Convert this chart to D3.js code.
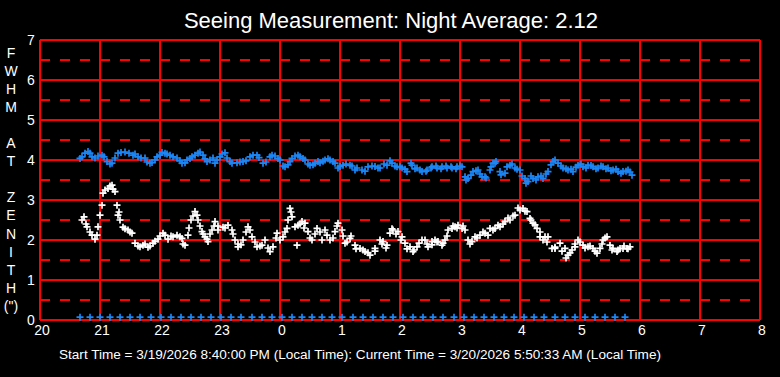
<!DOCTYPE html>
<html>
<head>
<meta charset="utf-8">
<script src="https://cdn.jsdelivr.net/npm/d3@7"></script>
<style>
  html, body { margin: 0; padding: 0; background: #000; }
  svg { display: block; }
</style>
</head>
<body>
<div id="chart"></div>
<script>
// global constants
const W = 780;
const H = 377;
const MARGIN = { top: 40, right: 20, bottom: 57, left: 40 };
const TITLE = "Seeing Measurement: Night Average: 2.12";
const FOOTER =
  "Start Time = 3/19/2026 8:40:00 PM (Local Time): Current Time = 3/20/2026 5:50:33 AM (Local Time)";
const Y_TITLE = ["F", "W", "H", "M", "", "A", "T", "", "Z", "E", "N", "I", "T", "H", "(\")"];

// x axis: hours after 20:00 (tick label wraps at 24)
const HOUR_TICKS = [20, 21, 22, 23, 24, 25, 26, 27, 28, 29, 30, 31, 32];
const Y_TICKS = [0, 1, 2, 3, 4, 5, 6, 7];
const Y_HALF = [0.5, 1.5, 2.5, 3.5, 4.5, 5.5, 6.5];

// upper (blue) series: minutes after 20:00, FWHM
const blueMin = [42, 48, 55, 62, 67, 72, 78, 85, 93, 98, 105, 110, 115, 120, 125, 130, 137, 142, 147, 152, 158, 163, 167, 173,
  175, 180, 185, 190, 197, 203, 210, 217, 223, 230, 235, 240, 245, 250, 255, 260, 265, 270, 275, 280, 285, 290, 295, 298, 303, 310,
  315, 322, 328, 335, 340, 347, 352, 357, 362, 367, 372, 377, 382, 387, 392, 397, 402, 407, 412, 417, 422, 425, 428, 433, 438, 442, 445, 450, 453,
  455, 460, 465, 470, 475, 480, 485, 488, 493, 498, 503, 508, 513, 518, 523, 528, 533, 538, 543, 548, 553, 558, 563, 568, 573, 578, 583, 588, 592,
  40, 45, 50, 52, 58, 64, 70, 75, 81, 89, 95, 101, 107, 112, 117, 122, 127, 133, 140, 145, 150, 155, 160, 165, 170,
  177, 182, 187, 192, 200, 206, 213, 219, 226, 232, 238, 243, 248, 252, 258, 263, 268, 273, 278, 283, 288, 293, 300, 306, 312,
  317, 325, 332, 338, 344, 350, 355, 360, 365, 371, 375, 380, 386, 391, 396, 401, 406, 411, 416, 420, 426, 431, 436, 440, 446, 451, 456,
  461, 467, 472, 477, 482, 486, 491, 496, 501, 506, 511, 515, 521, 526, 531, 536, 541, 546, 551, 556, 561, 566, 571, 576, 581, 586, 590];
const blueFwhm = [4.08, 4.21, 4.05, 4.12, 3.96, 3.92, 4.17, 4.2, 4.12, 4.08, 4.05, 3.92, 4.0, 4.12, 4.17, 4.12, 4.05, 3.92, 4.0, 4.08, 4.17, 4.12, 3.96, 4.05,
  3.92, 4.08, 4.18, 3.96, 3.93, 3.96, 4.08, 4.12, 3.92, 4.08, 4.1, 4.0, 3.83, 3.96, 4.1, 4.08, 4.0, 3.87, 3.92, 3.93, 4.0, 4.0, 3.92, 3.8, 3.87, 3.87,
  3.75, 3.75, 3.83, 3.84, 3.8, 3.87, 3.92, 3.83, 3.8, 3.71, 3.87, 3.8, 3.71, 3.75, 3.83, 3.8, 3.83, 3.8, 3.8, 3.83, 3.83, 3.58, 3.54, 3.71, 3.75, 3.58, 3.58, 3.75, 3.92,
  3.92, 3.71, 3.67, 3.87, 3.8, 3.75, 3.54, 3.46, 3.54, 3.58, 3.54, 3.71, 3.96, 3.92, 3.8, 3.75, 3.71, 3.87, 3.83, 3.87, 3.83, 3.8, 3.83, 3.8, 3.75, 3.71, 3.71, 3.75, 3.62,
  4.04, 4.17, 4.17, 4.08, 4.1, 4.08, 3.9, 4.05, 4.19, 4.17, 4.15, 4.05, 3.95, 3.94, 4.08, 4.19, 4.15, 4.08, 3.98, 3.93, 4.04, 4.12, 4.2, 4.03, 4.0,
  4.0, 4.15, 4.05, 3.92, 3.95, 3.98, 4.12, 4.06, 3.95, 4.12, 4.04, 3.85, 3.88, 4.04, 4.12, 4.04, 3.9, 3.88, 3.96, 3.97, 4.03, 3.96, 3.84, 3.9, 3.85,
  3.8, 3.72, 3.85, 3.8, 3.9, 3.98, 3.85, 3.83, 3.77, 3.92, 3.78, 3.75, 3.72, 3.8, 3.85, 3.78, 3.85, 3.83, 3.78, 3.85, 3.5, 3.62, 3.73, 3.65, 3.55, 3.83, 3.96,
  3.63, 3.83, 3.9, 3.77, 3.6, 3.42, 3.6, 3.5, 3.6, 3.65, 3.88, 4.0, 3.85, 3.78, 3.77, 3.82, 3.9, 3.8, 3.86, 3.78, 3.85, 3.78, 3.73, 3.77, 3.67, 3.72, 3.7];

// lower (white) series: minutes after 20:00, FWHM
const whiteMin = [42, 44, 47, 52, 55, 58, 62, 63, 68, 72, 75, 77, 78, 80, 83, 88, 92, 95, 98, 103, 108, 113, 118, 123, 128, 133, 137, 142, 145, 148,
  151, 155, 158, 162, 165, 168, 172, 175, 178, 183, 188, 192, 195, 198, 203, 208, 212, 217, 222, 225, 230, 233, 237, 240, 243, 247, 250, 252,
  255, 257, 258, 262, 265, 268, 272, 277, 282, 285, 290, 295, 298, 302, 305, 310, 315, 320, 325, 330, 335, 340, 343, 347, 350, 353, 358, 362,
  365, 370, 373, 377, 382, 385, 388, 392, 395, 398, 402, 405, 408, 412, 415, 418, 422, 425, 428, 432, 435, 440, 445, 450, 455, 460, 465, 470,
  475, 480, 483, 487, 490, 493, 497, 500, 505, 508, 512, 515, 520, 525, 528, 532, 535, 538, 543, 548, 553, 557, 560, 563, 567, 570, 573, 577,
  580, 583, 587, 590,
  46, 50, 57, 60, 65, 70, 73, 79, 85, 90, 100, 105, 110, 115, 120, 125, 131, 140, 143, 149, 153, 157, 160, 163, 167, 170, 174,
  178, 185, 193, 198, 201, 206, 210, 215, 220, 228, 236, 245, 248, 251, 260, 264, 270, 275, 280, 287, 293, 297, 303, 307,
  311, 316, 323, 328, 335, 342, 346, 352, 356, 361, 367, 374, 379, 387, 392, 397, 403, 407, 413, 417, 423, 430, 437, 443, 448,
  453, 458, 463, 468, 473, 478, 485, 491, 495, 500, 503, 507, 515, 522, 526, 530, 535, 540, 545, 550, 555, 562, 565, 572, 578, 584, 588];
const whiteFwhm = [2.5, 2.58, 2.33, 2.12, 2.02, 2.33, 2.87, 3.17, 3.29, 3.37, 3.21, 2.87, 2.62, 2.5, 2.32, 2.25, 2.17, 1.92, 1.85, 1.87, 1.82, 1.92, 2.02, 2.17, 2.02, 2.08, 2.12, 2.04, 1.87, 2.12,
  2.5, 2.71, 2.5, 2.21, 2.08, 1.96, 2.25, 2.46, 2.25, 2.32, 2.37, 2.25, 2.0, 1.83, 2.0, 2.33, 2.08, 1.83, 1.87, 2.0, 1.71, 1.83, 2.17, 2.0, 2.08, 2.29, 2.79, 2.58,
  2.33, 1.87, 2.37, 2.46, 2.42, 2.21, 2.0, 2.29, 2.0, 2.25, 2.0, 2.21, 2.42, 2.25, 1.92, 2.04, 1.87, 1.79, 1.71, 1.62, 1.79, 2.0, 1.96, 1.87, 2.17, 2.25, 2.21, 2.08,
  1.92, 1.83, 1.71, 1.83, 2.0, 2.0, 1.83, 1.96, 2.0, 1.96, 1.87, 2.0, 2.25, 2.29, 2.33, 2.37, 2.29, 2.25, 2.0, 1.96, 2.08, 2.12, 2.17, 2.29, 2.29, 2.33, 2.46, 2.5,
  2.62, 2.75, 2.79, 2.71, 2.54, 2.42, 2.29, 2.08, 2.08, 2.08, 1.79, 1.79, 1.92, 1.79, 1.62, 1.75, 1.83, 2.0, 1.87, 1.83, 1.79, 1.67, 1.79, 2.0, 2.08, 1.87, 1.79, 1.71,
  1.79, 1.79, 1.79, 1.83,
  2.4, 2.2, 2.12, 2.62, 3.25, 3.35, 3.27, 2.7, 2.28, 2.2, 1.83, 1.9, 1.85, 1.97, 2.1, 2.12, 2.1, 2.08, 1.9, 2.3, 2.6, 2.62, 2.35, 2.15, 2.02, 2.15, 2.35,
  2.35, 2.3, 2.15, 1.9, 1.88, 2.2, 2.25, 1.95, 1.85, 1.8, 2.05, 2.2, 2.5, 2.7, 2.4, 2.3, 2.05, 2.15, 2.2, 2.12, 2.05, 2.35, 2.1, 1.95,
  2.1, 1.78, 1.75, 1.68, 1.72, 1.9, 1.8, 2.28, 2.15, 2.0, 1.78, 1.75, 1.92, 1.9, 1.88, 1.95, 1.92, 2.1, 2.35, 2.3, 2.35, 1.9, 2.05, 2.2, 2.12,
  2.25, 2.37, 2.4, 2.55, 2.6, 2.8, 2.72, 2.5, 2.38, 2.2, 2.0, 1.95, 1.82, 1.72, 1.55, 1.68, 1.9, 1.95, 1.8, 1.85, 1.72, 1.9, 2.05, 1.75, 1.75, 1.85, 1.78];

// baseline markers: minutes after 20:00
const baseMin = [40, 50, 60, 70, 80, 90, 100, 111, 121, 131, 141, 151, 161, 171, 181, 191, 201, 212, 222, 232, 242, 252, 262, 272, 282, 292, 302,
  313, 323, 333, 343, 353, 363, 373, 383, 393, 403, 414, 424, 434, 444, 454, 464, 474, 484, 494, 504, 515, 525, 535, 545, 555, 565, 575, 585];
const BASE_VALUE = 0.07;

function render() {
  const svg = d3.select("#chart").append("svg").attr("width", W).attr("height", H);

  const x = d3.scaleLinear().domain([20, 32]).range([MARGIN.left, W - MARGIN.right]);
  const y = d3.scaleLinear().domain([0, 7]).range([H - MARGIN.bottom, MARGIN.top]);
  const tx = (m) => x(20 + m / 60);

  const font = "'Liberation Sans', Arial, sans-serif";

  // title
  svg.append("text")
    .attr("x", 391)
    .attr("y", 28)
    .attr("text-anchor", "middle")
    .attr("fill", "#fff")
    .attr("font-family", font)
    .attr("font-size", 22)
    .text(TITLE);

  // grid
  const grid = svg.append("g").attr("stroke", "#ff0000").attr("stroke-width", 2);
  grid.selectAll("line.h")
    .data(Y_TICKS)
    .join("line")
    .attr("class", "h")
    .attr("x1", x(20)).attr("x2", x(32))
    .attr("y1", (d) => y(d)).attr("y2", (d) => y(d));
  grid.selectAll("line.half")
    .data(Y_HALF)
    .join("line")
    .attr("class", "half")
    .attr("stroke-dasharray", "10,10")
    .attr("x1", x(20)).attr("x2", x(32))
    .attr("y1", (d) => y(d)).attr("y2", (d) => y(d));
  grid.selectAll("line.v")
    .data(HOUR_TICKS)
    .join("line")
    .attr("class", "v")
    .attr("x1", (d) => x(d)).attr("x2", (d) => x(d))
    .attr("y1", y(0)).attr("y2", y(7));

  // x tick labels
  svg.append("g")
    .selectAll("text")
    .data(HOUR_TICKS)
    .join("text")
    .attr("x", (d) => x(d) + 2)
    .attr("y", y(0) + 15)
    .attr("text-anchor", "middle")
    .attr("fill", "#fff")
    .attr("font-family", font)
    .attr("font-size", 14)
    .text((d) => d % 24);

  // y tick labels
  svg.append("g")
    .selectAll("text")
    .data(Y_TICKS)
    .join("text")
    .attr("x", 31)
    .attr("y", (d) => y(d) + 5)
    .attr("text-anchor", "middle")
    .attr("fill", "#fff")
    .attr("font-family", font)
    .attr("font-size", 14)
    .text((d) => d);

  // vertical y title
  svg.append("g")
    .selectAll("text")
    .data(Y_TITLE)
    .join("text")
    .attr("x", 11)
    .attr("y", (_, i) => 58 + i * 18.05)
    .attr("text-anchor", "middle")
    .attr("fill", "#fff")
    .attr("font-family", font)
    .attr("font-size", 14)
    .text((d) => d);

  // plus markers
  const plus = "M-3.5,0H3.5M0,-3.5V3.5";
  const drawSeries = (mins, vals, color) =>
    svg.append("g")
      .attr("stroke", color)
      .attr("stroke-width", 1.7)
      .attr("fill", "none")
      .selectAll("path")
      .data(mins.map((m, i) => [m, vals[i]]))
      .join("path")
      .attr("d", plus)
      .attr("transform", (d) => `translate(${tx(d[0])},${y(d[1])})`);

  drawSeries(blueMin, blueFwhm, "#1c86f5");
  drawSeries(whiteMin, whiteFwhm, "#ffffff");
  drawSeries(baseMin, baseMin.map(() => BASE_VALUE), "#1c86f5");

  // footer
  svg.append("text")
    .attr("x", 360)
    .attr("y", 359)
    .attr("text-anchor", "middle")
    .attr("fill", "#fff")
    .attr("font-family", font)
    .attr("font-size", 12)
    .attr("textLength", 602)
    .attr("lengthAdjust", "spacingAndGlyphs")
    .text(FOOTER);
}

render();
</script>
</body>
</html>
